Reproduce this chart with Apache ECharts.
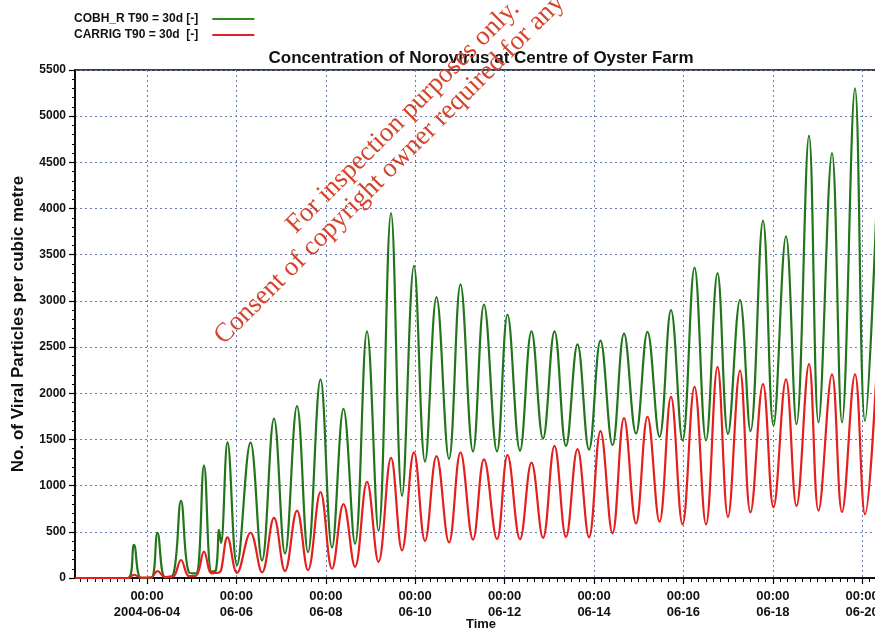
<!DOCTYPE html>
<html>
<head>
<meta charset="utf-8">
<script src="https://cdn.jsdelivr.net/npm/echarts@6/dist/echarts.min.js"></script>
<style>
  html, body { margin: 0; padding: 0; background: #ffffff; }
  #chart { width: 875px; height: 630px; }
</style>
</head>
<body>
<div id="chart"></div>
<script>
// Sampling instants (local time) at each tidal crest and trough of the modelled concentration
const sampleTimes = [
  '2004-06-02 09:20', '2004-06-03 13:48', '2004-06-03 17:01', '2004-06-03 20:47', '2004-06-04 02:09',
  '2004-06-04 05:38', '2004-06-04 09:40', '2004-06-04 13:58', '2004-06-04 18:15', '2004-06-04 22:33',
  '2004-06-05 02:19', '2004-06-05 06:36', '2004-06-05 10:38', '2004-06-05 13:03', '2004-06-05 14:40',
  '2004-06-05 15:44', '2004-06-05 19:13', '2004-06-06 00:19', '2004-06-06 07:34', '2004-06-06 13:45',
  '2004-06-06 20:11', '2004-06-07 02:05', '2004-06-07 08:32', '2004-06-07 14:26', '2004-06-07 21:09',
  '2004-06-08 03:20', '2004-06-08 09:30', '2004-06-08 15:41', '2004-06-08 22:07', '2004-06-09 04:17',
  '2004-06-09 11:01', '2004-06-09 16:55', '2004-06-09 23:21', '2004-06-10 05:16', '2004-06-10 11:26',
  '2004-06-10 18:09', '2004-06-11 00:19', '2004-06-11 07:02', '2004-06-11 12:56', '2004-06-11 19:55',
  '2004-06-12 01:34', '2004-06-12 08:16', '2004-06-12 14:26', '2004-06-12 20:37', '2004-06-13 02:47',
  '2004-06-13 08:58', '2004-06-13 15:08', '2004-06-13 21:19', '2004-06-14 03:29', '2004-06-14 09:56',
  '2004-06-14 16:07', '2004-06-14 22:33', '2004-06-15 04:43', '2004-06-15 11:10', '2004-06-15 17:20',
  '2004-06-15 23:31', '2004-06-16 05:58', '2004-06-16 12:08', '2004-06-16 18:19', '2004-06-16 23:56',
  '2004-06-17 06:23', '2004-06-17 12:01', '2004-06-17 18:44', '2004-06-18 00:22', '2004-06-18 07:05',
  '2004-06-18 12:43', '2004-06-18 19:26', '2004-06-19 00:32', '2004-06-19 07:47', '2004-06-19 13:09',
  '2004-06-19 20:08', '2004-06-20 01:30', '2004-06-20 07:56'
];

// COBH_R, T90 = 30 days (viral particles per m3)
const cobhValues = [
  0, 0, 360, 0, 0, 490, 10, 30, 835, 60,
  50, 1220, 70, 90, 520, 380, 1470, 140, 1465, 190,
  1725, 265, 1860, 280, 2150, 330, 1830, 370, 2670, 510,
  3950, 890, 3380, 1260, 3040, 1290, 3180, 1370, 2960, 1370,
  2850, 1380, 2670, 1510, 2670, 1430, 2530, 1390, 2570, 1440,
  2645, 1565, 2665, 1530, 2900, 1490, 3360, 1490, 3300, 1560,
  3010, 1590, 3870, 1650, 3700, 1665, 4790, 1685, 4600, 1685,
  5300, 1700, 4150
];

// CARRIG, T90 = 30 days (viral particles per m3)
const carrigValues = [
  0, 0, 35, 5, 8, 75, 10, 15, 195, 20,
  25, 285, 50, 55, 60, 80, 440, 55, 490, 60,
  650, 75, 730, 85, 930, 100, 800, 120, 1040, 175,
  1300, 300, 1360, 400, 1320, 385, 1360, 415, 1285, 420,
  1330, 420, 1250, 435, 1430, 445, 1395, 440, 1590, 485,
  1730, 590, 1745, 610, 1960, 580, 2070, 580, 2285, 660,
  2245, 710, 2100, 765, 2150, 780, 2315, 730, 2205, 715,
  2205, 690, 2330
];

const seriesNames = ['COBH_R T90 = 30d [-]', 'CARRIG T90 = 30d  [-]'];

// Time axis extent and the labelled midnight ticks
const axisStart = '2004-06-02 09:20';
const axisEnd = '2004-06-20 13:19';
const dayTicks = [
  '2004-06-04 00:00', '2004-06-06 00:00', '2004-06-08 00:00', '2004-06-10 00:00', '2004-06-12 00:00',
  '2004-06-14 00:00', '2004-06-16 00:00', '2004-06-18 00:00', '2004-06-20 00:00'
];
const dayTickLabels = [
  '00:00\n2004-06-04', '00:00\n06-06', '00:00\n06-08', '00:00\n06-10', '00:00\n06-12',
  '00:00\n06-14', '00:00\n06-16', '00:00\n06-18', '00:00\n06-20'
];

function toMs(s) {
  const parts = s.split(' ');
  const d = parts[0].split('-').map(Number);
  const t = parts[1].split(':').map(Number);
  return new Date(d[0], d[1] - 1, d[2], t[0], t[1]).getTime();
}

const minMs = toMs(axisStart);
const maxMs = toMs(axisEnd);
const dayTickMs = dayTicks.map(toMs);

// Small ticks every four hours
const HOUR = 3600 * 1000;
const minorTickMs = [];
for (let t = toMs('2004-06-02 12:00'); t <= maxMs; t += 4 * HOUR) minorTickMs.push(t);

const cobhData = sampleTimes.map((t, i) => [toMs(t), cobhValues[i]]);
const carrigData = sampleTimes.map((t, i) => [toMs(t), carrigValues[i]]);

const FONT = '"Liberation Sans", Arial, sans-serif';
const gridLine = { color: '#6a7db0', width: 1, type: [2, 3] };

const chart = echarts.init(document.getElementById('chart'), null, { renderer: 'canvas' });

chart.setOption({
  animation: false,
  backgroundColor: '#ffffff',
  title: {
    text: 'Concentration of Norovirus at Centre of Oyster Farm',
    left: 476,
    top: 45,
    textAlign: 'center',
    textStyle: { fontFamily: FONT, fontSize: 17, fontWeight: 'bold', color: '#111111' }
  },
  legend: {
    orient: 'vertical',
    align: 'right',
    left: 69,
    top: 8,
    itemGap: 4,
    itemWidth: 42,
    itemHeight: 2,
    icon: 'rect',
    data: seriesNames,
    textStyle: { fontFamily: FONT, fontSize: 12, fontWeight: 'bold', color: '#111111', padding: [0, 9, 0, 0] }
  },
  grid: {
    left: 75, top: 70, width: 812, height: 508,
    outerBoundsMode: 'none',
    show: true, borderColor: '#000000', borderWidth: 1.5, containLabel: false
  },
  xAxis: [
    {
      type: 'value',
      min: minMs,
      max: maxMs,
      position: 'bottom',
      name: 'Time',
      nameLocation: 'middle',
      nameGap: 40,
      nameMoveOverlap: false,
      nameTextStyle: { fontFamily: FONT, fontSize: 13, fontWeight: 'bold', color: '#111111' },
      axisLine: { show: true, onZero: false, lineStyle: { color: '#000000', width: 1.5 } },
      axisTick: { show: true, customValues: dayTickMs, length: 6, lineStyle: { color: '#000000', width: 1.2 } },
      axisLabel: {
        customValues: dayTickMs,
        margin: 10,
        fontFamily: FONT,
        fontSize: 13,
        fontWeight: 'bold',
        color: '#111111',
        lineHeight: 16,
        formatter: function (v) {
          const i = dayTickMs.findIndex(function (d) { return Math.abs(d - v) < 1000; });
          return i >= 0 ? dayTickLabels[i] : '';
        }
      },
      splitLine: { show: true, lineStyle: gridLine }
    },
    {
      type: 'value',
      min: minMs,
      max: maxMs,
      position: 'bottom',
      axisLine: { show: false, onZero: false },
      axisTick: { show: true, customValues: minorTickMs, length: 4, lineStyle: { color: '#000000', width: 1 } },
      axisLabel: { show: false },
      splitLine: { show: false }
    }
  ],
  yAxis: {
    type: 'value',
    min: 0,
    max: 5500,
    interval: 500,
    name: 'No. of Viral Particles per cubic metre',
    nameLocation: 'middle',
    nameGap: 48,
    nameMoveOverlap: false,
    nameTextStyle: { fontFamily: FONT, fontSize: 17, fontWeight: 'bold', color: '#111111' },
    axisLine: { show: true, lineStyle: { color: '#000000', width: 1.5 } },
    axisTick: { show: true, length: 6, lineStyle: { color: '#000000', width: 1.2 } },
    minorTick: { show: true, splitNumber: 5, length: 3, lineStyle: { color: '#000000', width: 1 } },
    axisLabel: {
      margin: 9,
      fontFamily: FONT,
      fontSize: 12,
      fontWeight: 'bold',
      color: '#111111',
      formatter: function (v) { return String(v); }
    },
    splitLine: { show: true, lineStyle: gridLine }
  },
  series: [
    {
      name: seriesNames[0],
      type: 'line',
      data: cobhData,
      xAxisIndex: 0,
      showSymbol: false,
      smooth: 0.4,
      color: '#2f8a1f',
      lineStyle: { color: '#22751a', width: 2.2 }
    },
    {
      name: seriesNames[1],
      type: 'line',
      data: carrigData,
      xAxisIndex: 0,
      showSymbol: false,
      smooth: 0.4,
      color: '#e0202a',
      lineStyle: { color: '#e3201e', width: 2.2 }
    }
  ],
  graphic: [
    {
      type: 'text',
      x: 403, y: 117,
      rotation: Math.PI / 4,
      silent: true,
      z: 100,
      style: {
        text: 'For inspection purposes only.',
        font: '27px "Liberation Serif", "Times New Roman", serif',
        fill: '#d6442c',
        align: 'center',
        verticalAlign: 'middle'
      }
    },
    {
      type: 'text',
      x: 429, y: 130,
      rotation: Math.PI / 4,
      silent: true,
      z: 100,
      style: {
        text: 'Consent of copyright owner required for any other use.',
        font: '27px "Liberation Serif", "Times New Roman", serif',
        fill: '#d6442c',
        align: 'center',
        verticalAlign: 'middle'
      }
    }
  ]
});
</script>
</body>
</html>
